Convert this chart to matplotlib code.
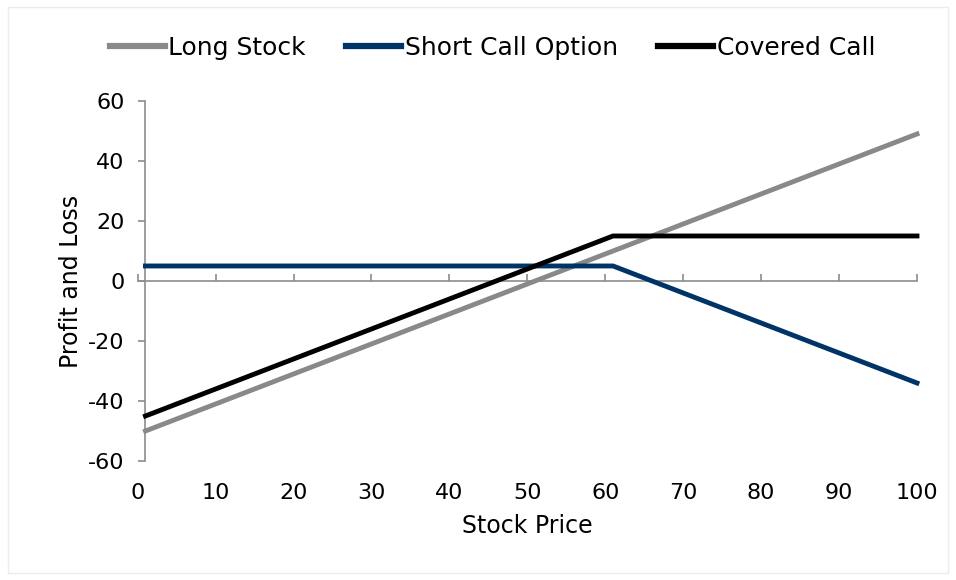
import matplotlib
matplotlib.use("Agg")
import matplotlib.pyplot as plt
from matplotlib.patches import Rectangle

plt.rcParams['font.family'] = ['DejaVu Sans']
plt.rcParams['axes.unicode_minus'] = False

# payoff values (key points)
stock_price = [1, 61, 100]
long_stock = [-50, 10, 49]
short_call = [5, 5, -34]
covered_call = [-45, 15, 15]

x_ticks = [0, 10, 20, 30, 40, 50, 60, 70, 80, 90, 100]
y_ticks = [-60, -40, -20, 0, 20, 40, 60]

axis_grey = '#8c8c8c'
fs = 16

fig = plt.figure(figsize=(9.56, 5.8), dpi=100)
fig.patches.append(Rectangle((8 / 956, 7 / 580), 940 / 956, 566 / 580,
                             transform=fig.transFigure, fill=False,
                             edgecolor='#ececec', linewidth=1))
ax = fig.add_axes([0.144, 0.2052, 0.8152, 0.6207])

ax.plot(stock_price, long_stock, color='#898989', lw=3.5, label='Long Stock',
        solid_joinstyle='miter', clip_on=False, zorder=3)
ax.plot(stock_price, short_call, color='#003366', lw=3.5, label='Short Call Option',
        solid_joinstyle='miter', clip_on=False, zorder=3)
ax.plot(stock_price, covered_call, color='black', lw=3.5, label='Covered Call',
        solid_joinstyle='miter', clip_on=False, zorder=3)

ax.set_xlim(0, 100)
ax.set_ylim(-60, 60)
ax.set_xticks(x_ticks)
ax.set_yticks(y_ticks)

for s in ['top', 'right', 'bottom']:
    ax.spines[s].set_visible(False)
ax.spines['left'].set_position(('data', 1))
ax.spines['left'].set_color(axis_grey)
ax.spines['left'].set_linewidth(1.2)

ax.tick_params(axis='y', direction='out', length=5, width=1.2, color=axis_grey,
               labelsize=fs, pad=10)
ax.tick_params(axis='x', length=0, labelsize=fs, pad=16)

# zero line with tick marks
zero_ax = ax.secondary_xaxis(0.5)
zero_ax.set_xticks(x_ticks)
zero_ax.set_xticklabels([])
for s in zero_ax.spines.values():
    s.set_color(axis_grey)
    s.set_linewidth(1.2)
zero_ax.tick_params(direction='out', length=5, width=1.2, color=axis_grey,
                    labelbottom=False, labeltop=False)

ax.set_xlabel('Stock Price', fontsize=17, labelpad=8)
ax.set_ylabel('Profit and Loss', fontsize=17, labelpad=4)

leg = fig.legend(loc='center', bbox_to_anchor=(0.515, 0.918), ncol=3, frameon=False,
                 fontsize=18, handlelength=2.2, handletextpad=0.15, columnspacing=1.6)
for line in leg.get_lines():
    line.set_linewidth(4.5)

plt.savefig('out.png', dpi=100)
